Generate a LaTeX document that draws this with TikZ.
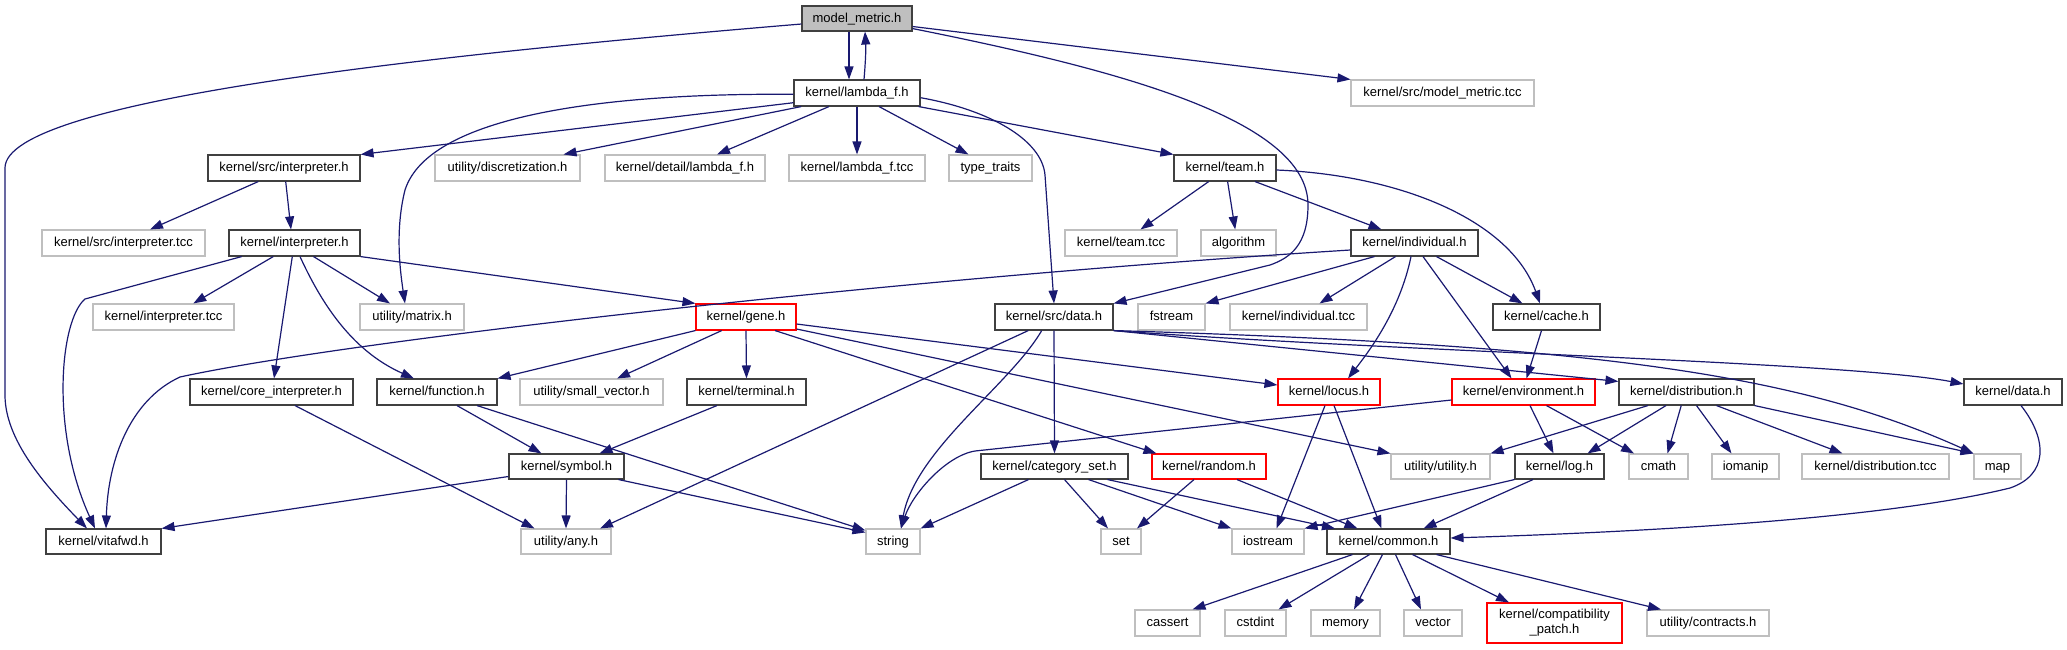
\documentclass[tikz,border=0pt]{standalone}
\usepackage{fontspec}
\setmainfont{Liberation Sans}
\usetikzlibrary{arrows.meta,calc}
\definecolor{edgecol}{RGB}{25,25,112}
\definecolor{dgray}{RGB}{64,64,64}
\definecolor{lgray}{RGB}{191,191,191}
\definecolor{redc}{RGB}{255,0,0}
\definecolor{curfill}{RGB}{191,191,191}
\begin{document}
\begin{tikzpicture}[x=1pt,y=-1pt,
  box/.style={draw, line width=1.1pt, inner sep=0pt, minimum height=26pt,
    text height=10pt, text depth=2.5pt, font=\fontsize{13}{15}\selectfont, text=black},
  doc/.style={box, draw=dgray},
  ext/.style={box, draw=lgray},
  trunc/.style={box, draw=redc},
  cur/.style={box, draw=dgray, fill=curfill},
  e/.style={draw=edgecol, line width=1.2pt, line join=round, -{Triangle[length=13pt,width=9pt]}}]
\useasboundingbox (0,0) rectangle (2067,649);
% row 1
\node[cur, minimum width=110pt, minimum height=25pt] (mm) at (857,18.5) {model\_metric.h};
% row 2
\node[doc, minimum width=126pt] (lam) at (857,93) {kernel/lambda\_f.h};
\node[ext, minimum width=183pt] (mmtcc) at (1442.5,93) {kernel/src/model\_metric.tcc};
% row 3
\node[doc, minimum width=152pt] (srcint) at (284,168) {kernel/src/interpreter.h};
\node[ext, minimum width=145pt] (disc) at (507.5,168) {utility/discretization.h};
\node[ext, minimum width=160pt] (detlam) at (685,168) {kernel/detail/lambda\_f.h};
\node[ext, minimum width=136pt] (lamtcc) at (857,168) {kernel/lambda\_f.tcc};
\node[ext, minimum width=83pt] (tt) at (990.5,168) {type\_traits};
\node[doc, minimum width=102pt] (team) at (1225,168) {kernel/team.h};
% row 4
\node[ext, minimum width=163pt] (srcinttcc) at (123.5,243) {kernel/src/interpreter.tcc};
\node[doc, minimum width=131pt] (interp) at (294.5,243) {kernel/interpreter.h};
\node[ext, minimum width=112pt] (teamtcc) at (1121,243) {kernel/team.tcc};
\node[ext, minimum width=75pt] (algo) at (1238.5,243) {algorithm};
\node[doc, minimum width=127pt] (indiv) at (1414.5,243) {kernel/individual.h};
% row 5
\node[ext, minimum width=141pt] (inttcc) at (163.5,317) {kernel/interpreter.tcc};
\node[ext, minimum width=104pt] (matrix) at (412,317) {utility/matrix.h};
\node[trunc, minimum width=100pt] (gene) at (746,317) {kernel/gene.h};
\node[doc, minimum width=118pt] (sdata) at (1054,317) {kernel/src/data.h};
\node[ext, minimum width=67pt] (fstream) at (1171.5,317) {fstream};
\node[ext, minimum width=137pt] (indivtcc) at (1298.5,317) {kernel/individual.tcc};
\node[doc, minimum width=107pt] (cache) at (1546.5,317) {kernel/cache.h};
% row 6
\node[doc, minimum width=163pt] (core) at (271.5,392) {kernel/core\_interpreter.h};
\node[doc, minimum width=120pt] (func) at (437,392) {kernel/function.h};
\node[ext, minimum width=143pt] (smallvec) at (591.5,392) {utility/small\_vector.h};
\node[doc, minimum width=119pt] (terminal) at (746.5,392) {kernel/terminal.h};
\node[trunc, minimum width=102pt] (locus) at (1329,392) {kernel/locus.h};
\node[trunc, minimum width=143pt] (env) at (1523.5,392) {kernel/environment.h};
\node[doc, minimum width=135pt] (distr) at (1686.5,392) {kernel/distribution.h};
\node[doc, minimum width=98pt] (kdata) at (2013,392) {kernel/data.h};
% row 7
\node[doc, minimum width=115pt, minimum height=25pt] (symbol) at (566.5,466.5) {kernel/symbol.h};
\node[doc, minimum width=147pt, minimum height=25pt] (catset) at (1054.5,466.5) {kernel/category\_set.h};
\node[trunc, minimum width=114pt, minimum height=25pt] (random) at (1209,466.5) {kernel/random.h};
\node[ext, minimum width=99pt, minimum height=25pt] (utility) at (1440.5,466.5) {utility/utility.h};
\node[doc, minimum width=89pt, minimum height=25pt] (log) at (1559.5,466.5) {kernel/log.h};
\node[ext, minimum width=59pt, minimum height=25pt] (cmath) at (1658.5,466.5) {cmath};
\node[ext, minimum width=67pt, minimum height=25pt] (iomanip) at (1745.5,466.5) {iomanip};
\node[ext, minimum width=147pt, minimum height=25pt] (distrtcc) at (1875.5,466.5) {kernel/distribution.tcc};
\node[ext, minimum width=47pt, minimum height=25pt] (map) at (1997.5,466.5) {map};
% row 8
\node[doc, minimum width=115pt, minimum height=25pt] (vitafwd) at (103.5,541.5) {kernel/vitafwd.h};
\node[ext, minimum width=90pt, minimum height=25pt] (any) at (566,541.5) {utility/any.h};
\node[ext, minimum width=54pt, minimum height=25pt] (string) at (893,541.5) {string};
\node[ext, minimum width=40pt, minimum height=25pt] (set) at (1121,541.5) {set};
\node[ext, minimum width=72pt, minimum height=25pt] (iostream) at (1268,541.5) {iostream};
\node[doc, minimum width=123pt, minimum height=25pt] (common) at (1388.5,541.5) {kernel/common.h};
% row 9
\node[ext, minimum width=65pt] (cassert) at (1167.5,623) {cassert};
\node[ext, minimum width=61pt] (cstdint) at (1255.5,623) {cstdint};
\node[ext, minimum width=69pt] (memory) at (1345.5,623) {memory};
\node[ext, minimum width=58pt] (vector) at (1433,623) {vector};
\node[draw=redc, line width=1.1pt, inner sep=0pt, minimum width=135pt, minimum height=40pt,
  align=center, font=\fontsize{13}{15}\selectfont] (compat) at (1554.5,623) {kernel/compatibility\\\_patch.h};
\node[ext, minimum width=122pt] (contracts) at (1708,623) {utility/contracts.h};

% ---- edges ----
% model_metric.h
\draw[e] ($(mm.south)+(-8,0)$) -- ($(lam.north)+(-8,0)$);
\draw[e] ($(mm.west)+(0,5.5)$) .. controls (430,55) and (5,100) .. (5,168) -- (5,395)
  .. controls (5,440) and (45,485) .. ($(vitafwd.north)+(-16.5,0)$);
\draw[e] ($(mm.south east)+(0,-3)$) .. controls (1120,70) and (1308,120) .. (1308,205)
  .. controls (1308,245) and (1290,258) .. (1270,265) -- (sdata.north east);
\draw[e] ($(mm.east)+(0,8)$) -- (mmtcc.north west);
% lambda_f.h
\draw[e] ($(lam.north)+(7,0)$) .. controls +(1.5,-17) and +(1,17) .. ($(mm.south)+(8,0)$);
\draw[e] ($(lam.west)+(0,9.7)$) -- (srcint.north east);
\draw[e] ($(lam.west)+(0,1.3)$) .. controls (620,93) and (430,112) .. (405,190)
  .. controls (395,230) and (400,270) .. ($(matrix.north)+(-7,0)$);
\draw[e] ($(lam.south)+(-55.7,0)$) -- ($(disc.north)+(56,0)$);
\draw[e] ($(lam.south)+(-28,0)$) -- ($(detlam.north)+(32,0)$);
\draw[e] (lam.south) -- (lamtcc.north);
\draw[e] ($(lam.south)+(22,0)$) -- ($(tt.north)+(-22,0)$);
\draw[e] ($(lam.south east)+(-2,0)$) -- (team.north west);
\draw[e] ($(lam.east)+(0,4.7)$) .. controls (990,110) and (1042,140) .. (1045,175) -- (sdata.north);
% kernel/src/interpreter.h
\draw[e] ($(srcint.south)+(-25.7,0)$) -- ($(srcinttcc.north)+(26.5,0)$);
\draw[e] ($(srcint.south)+(1.7,0)$) -- ($(interp.north)+(-3.5,0)$);
% kernel/team.h
\draw[e] ($(team.south)+(-16.3,0)$) -- ($(teamtcc.north)+(19.5,0)$);
\draw[e] ($(team.south)+(2.6,0)$) -- ($(algo.north)+(-3.3,0)$);
\draw[e] ($(team.south)+(30,0)$) -- ($(indiv.north)+(-33,0)$);
\draw[e] ($(team.east)+(0,2)$) .. controls (1400,175) and (1510,220) .. ($(cache.north)+(-6.5,0)$);
% kernel/interpreter.h
\draw[e] ($(interp.south)+(-52.8,0)$) -- (85,299) .. controls (60,320) and (50,430) .. ($(vitafwd.north)+(-8.5,0)$);
\draw[e] ($(interp.south)+(-21.2,0)$) -- ($(inttcc.north)+(29.8,0)$);
\draw[e] ($(interp.south)+(-2.2,0)$) -- ($(core.north)+(2.5,0)$);
\draw[e] ($(interp.south)+(5.5,0)$) .. controls (320,300) and (350,350) .. ($(func.north)+(-23,0)$);
\draw[e] ($(interp.south)+(19,0)$) -- ($(matrix.north)+(-22,0)$);
\draw[e] (interp.south east) -- (gene.north west);
% kernel/individual.h
\draw[e] ($(indiv.west)+(0,7)$) .. controls (900,278) and (350,340) .. (180,377)
  .. controls (130,400) and (108,460) .. ($(vitafwd.north)+(2.5,0)$);
\draw[e] ($(indiv.south)+(-40,0)$) -- (fstream.north east);
\draw[e] ($(indiv.south)+(-19,0)$) -- ($(indivtcc.north)+(21,0)$);
\draw[e] ($(indiv.south)+(-3.5,0)$) .. controls (1400,310) and (1370,350) .. ($(locus.north)+(19,0)$);
\draw[e] ($(indiv.south)+(8.5,0)$) -- ($(env.north)+(-12,0)$);
\draw[e] ($(indiv.south)+(22,0)$) -- ($(cache.north)+(-24,0)$);
% kernel/cache.h
\draw[e] ($(cache.south)+(-5,0)$) -- ($(env.north)+(3,0)$);
% kernel/src/data.h
\draw[e] ($(sdata.south)+(-25.7,0)$) -- ($(any.north)+(34,0)$);
\draw[e] ($(sdata.south)+(-12.3,0)$) .. controls (1010,385) and (915,450) .. ($(string.north)+(8,0)$);
\draw[e] (sdata.south) -- (catset.north);
\draw[e] (sdata.south east) -- ($(distr.north west)+(0,3)$);
\draw[e] (sdata.south east) .. controls (1400,352) and (1850,362) .. ($(kdata.west)+(0,-8)$);
\draw[e] (sdata.south east) .. controls (1600,345) and (1800,375) .. (map.north west);
% kernel/gene.h
\draw[e] (gene.south west) -- (func.north east);
\draw[e] ($(gene.south)+(-24.3,0)$) -- ($(smallvec.north)+(25.5,0)$);
\draw[e] (gene.south) -- (terminal.north);
\draw[e] ($(gene.south)+(29,0)$) -- ($(random.north west)+(5,0)$);
\draw[e] ($(gene.east)+(0,7)$) -- ($(locus.west)+(0,-7)$);
\draw[e] ($(gene.east)+(0,12)$) -- (utility.north west);
% kernel/function.h, terminal.h, core_interpreter.h
\draw[e] ($(func.south)+(20,0)$) -- ($(symbol.north)+(-25,0)$);
\draw[e] ($(func.south)+(40,0)$) -- ($(string.north west)+(0,2)$);
\draw[e] ($(terminal.south)+(-29.5,0)$) -- ($(symbol.north)+(33,0)$);
\draw[e] ($(core.south)+(23.5,0)$) -- ($(any.north)+(-31.5,0)$);
% kernel/symbol.h
\draw[e] ($(symbol.west)+(0,10)$) -- (vitafwd.north east);
\draw[e] (symbol.south) -- (any.north);
\draw[e] ($(symbol.south)+(52,0)$) -- ($(string.north west)+(0,4)$);
% kernel/locus.h
\draw[e] ($(locus.south)+(-4,0)$) -- ($(iostream.north)+(8.5,0)$);
\draw[e] ($(locus.south)+(5,0)$) -- ($(common.north)+(-7,0)$);
% kernel/environment.h
\draw[e] ($(env.west)+(0,8)$) -- (975,451) .. controls (945,456) and (912,495) .. ($(string.north)+(8,0)$);
\draw[e] ($(env.south)+(6.5,0)$) -- ($(log.north)+(-6,0)$);
\draw[e] ($(env.south)+(23,0)$) -- ($(cmath.north)+(-24.5,0)$);
% kernel/distribution.h
\draw[e] ($(distr.south)+(-38.5,0)$) -- (utility.north east);
\draw[e] ($(distr.south)+(-20.5,0)$) -- ($(log.north)+(28,0)$);
\draw[e] ($(distr.south)+(-5.3,0)$) -- ($(cmath.north)+(9,0)$);
\draw[e] ($(distr.south)+(10,0)$) -- ($(iomanip.north)+(-14,0)$);
\draw[e] ($(distr.south)+(30,0)$) -- ($(distrtcc.north)+(-33,0)$);
\draw[e] (distr.south east) -- (map.north west);
% kernel/data.h
\draw[e] ($(kdata.south)+(8,0)$) .. controls (2048,440) and (2048,475) .. (2010,488)
  .. controls (1900,515) and (1700,530) .. ($(common.east)+(0,-3.5)$);
% kernel/category_set.h
\draw[e] ($(catset.south)+(-26,0)$) -- (string.north east);
\draw[e] ($(catset.south)+(10,0)$) -- ($(set.north)+(-13,0)$);
\draw[e] ($(catset.south)+(34,0)$) -- (iostream.north west);
\draw[e] ($(catset.south)+(53,0)$) -- ($(common.north)+(-53.5,0)$);
% kernel/random.h
\draw[e] ($(random.south)+(-15,0)$) -- ($(set.north)+(16,0)$);
\draw[e] ($(random.south)+(28,0)$) -- ($(common.north)+(-31,0)$);
% kernel/log.h
\draw[e] (log.south west) -- (iostream.north east);
\draw[e] ($(log.south)+(-26.5,0)$) -- ($(common.north)+(35,0)$);
% kernel/common.h
\draw[e] ($(common.south)+(-36,0)$) -- ($(cassert.north)+(25,0)$);
\draw[e] ($(common.south)+(-19,0)$) -- ($(cstdint.north)+(23,0)$);
\draw[e] ($(common.south)+(-6,0)$) -- ($(memory.north)+(8.5,0)$);
\draw[e] ($(common.south)+(7,0)$) -- ($(vector.north)+(-12,0)$);
\draw[e] ($(common.south)+(24,0)$) -- ($(compat.north)+(-45.5,0)$);
\draw[e] ($(common.south)+(48,0)$) -- ($(contracts.north)+(-47,0)$);
\end{tikzpicture}
\end{document}
